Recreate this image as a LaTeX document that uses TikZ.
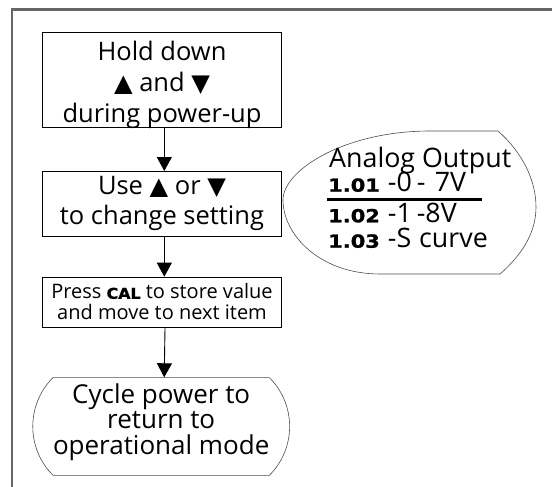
\documentclass[tikz,border=0pt]{standalone}
\usepackage{fontspec}
\setmainfont{Open Sans}
\newfontfamily\symfont{DejaVu Sans}[Scale=0.95]
\newfontfamily\keyfont{DejaVu Sans}[BoldFeatures={FakeBold=1.2}]
\usetikzlibrary{arrows.meta,shapes.misc}

\newcommand{\keyup}{{\symfont ▲}}
\newcommand{\keydown}{{\symfont ▼}}
% bold key labels, sized to a fixed width and cap height
\newcommand{\keycode}[3]{\resizebox{#1}{#2}{\keyfont\bfseries #3}}

\begin{document}
\begin{tikzpicture}[x=1pt,y=-1pt]

      \useasboundingbox (0,0) rectangle (552,487);
      \draw[black!60,line width=2.5pt] (12,487) -- (12,9.5) -- (552,9.5);

      \begin{scope}[every node/.style={draw,line width=0.9pt,inner sep=0pt,anchor=north,
          minimum width=239.5pt,align=center}]
        \node[text height=90pt,text depth=5.6pt,font=\fontsize{25.5}{31}\selectfont]
          (1) at (162,31.7) {Hold down\\ \keyup{} and \keydown\\ during power-up};
        \node[text height=53pt,text depth=11.7pt,font=\fontsize{25.5}{30}\selectfont]
          (2) at (162,171) {Use \keyup{} or \keydown\\ to change setting};
        \node[text height=42.6pt,text depth=8pt,font=\fontsize{20}{21}\selectfont]
          (3) at (162,276.7) {Press \keycode{34pt}{11pt}{CAL} to store value\\ and move to next item};
        \node[rounded rectangle,rounded rectangle arc length=90,draw=black!70,
          line width=0.6pt,minimum width=237.7pt,text height=77pt,text depth=20.7pt,
          font=\fontsize{26}{25.8}\selectfont]
          (4) at (161.2,377.3) {Cycle power to\\ return to\\ operational mode};
      \end{scope}

      % analog output choices
      \draw[black!70,line width=0.6pt] (498,131) -- (430,131)
        .. controls (345,131) and (283,170) .. (283,200)
        .. controls (283,235) and (320,274) .. (380,274) -- (500,274)
        .. controls (525,252) and (536,230) .. (536,207)
        .. controls (536,180) and (522,152) .. (498,131) -- cycle;
      \begin{scope}[every node/.style={inner sep=0pt,anchor=base west,
          font=\fontsize{26.8}{26.8}\selectfont}]
        \node (5) at (329,167.7) {Analog Output};
        \node (6) at (328,191.7) {\keycode{51.7pt}{13.4pt}{1.01}\hspace{8pt}-0\hspace{5pt}-\hspace{9.4pt}7V};
        \node (7) at (328,222.3) {\keycode{51.7pt}{13.4pt}{1.02}\hspace{8pt}-1\hspace{5pt}-8V};
        \node (8) at (328,247.7) {\keycode{51.7pt}{13.4pt}{1.03}\hspace{8pt}-S\hspace{8pt}curve};
      \end{scope}
      \coordinate (u1) at (327.3,199.5);
      \coordinate (u2) at (481.7,199.5);
      \draw[line width=2.2pt] (u1) -- (u2);

      \begin{scope}[every edge/.style={draw,line width=0.9pt,-{Triangle[length=14pt,width=15pt]}}]
        \path ([xshift=2.3pt]1.south) edge ([xshift=2.3pt]2.north);
        \path ([xshift=2.3pt]2.south) edge ([xshift=2.3pt]3.north);
        \path ([xshift=3pt]3.south) edge ([xshift=3pt]4.north);
      \end{scope}

    \end{tikzpicture}
\end{document}
